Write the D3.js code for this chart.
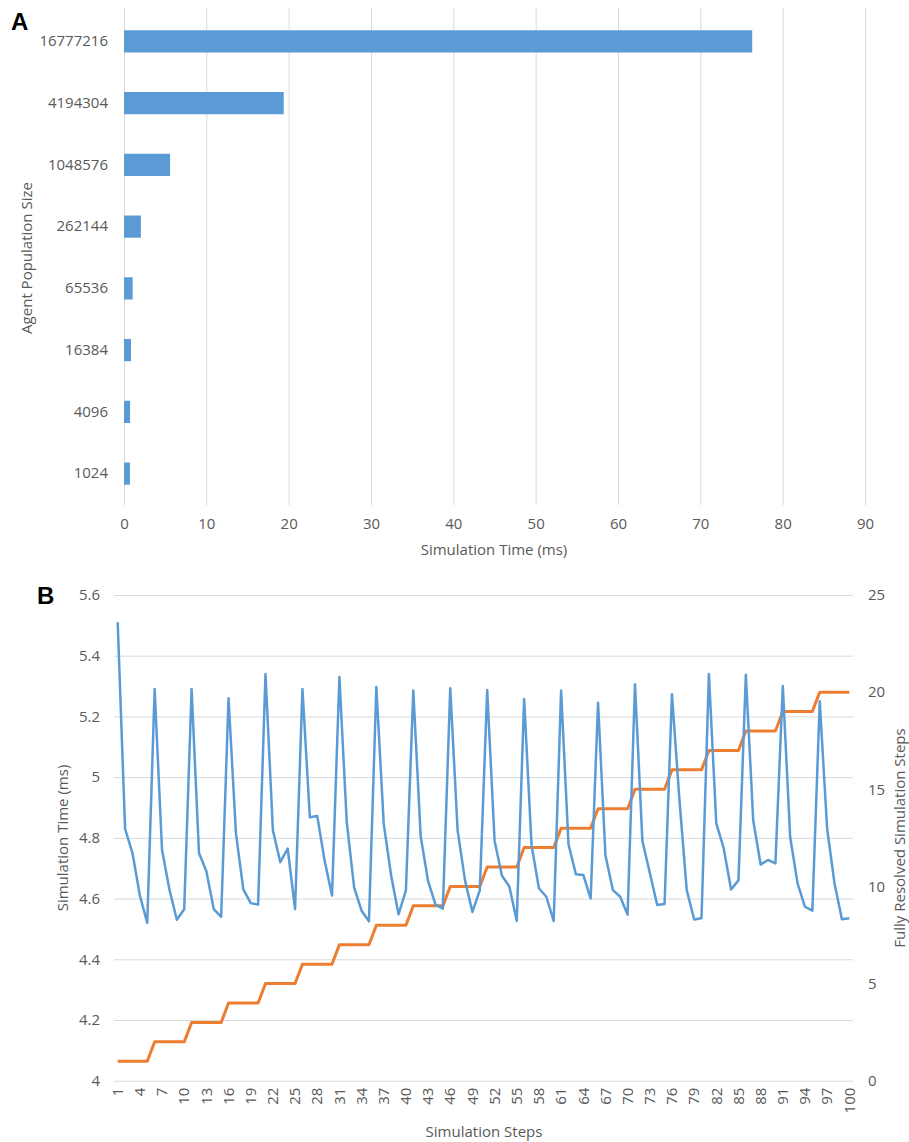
<!DOCTYPE html>
<html>
<head>
	<meta charset="UTF-8" />
	<title>simulation time charts</title>
	<script src="https://d3js.org/d3.v7.min.js"></script>
	<style>
		body { margin: 0; background: #fff; }
		text { font-family: "Open Sans", sans-serif; fill: #595959; }
	</style>
</head>
<body>
	<svg id="chart" width="909" height="1142"></svg>

	<script type="text/javascript">
	// colours
	const blue = "#5b9bd5"
	const orange = "#ed7d31"
	const gridGray = "#d9d9d9"

	// panel A : population size vs simulation time
	const popSizes = ["16777216", "4194304", "1048576", "262144", "65536", "16384", "4096", "1024"]
	const popTimes = [76.3, 19.4, 5.6, 2.05, 1.05, 0.85, 0.74, 0.72]
	const timeTicks = [0, 10, 20, 30, 40, 50, 60, 70, 80, 90]

	// panel B : per step time and resolved steps
	const steps = [1, 2, 3, 4, 5, 6, 7, 8, 9, 10, 11, 12, 13, 14, 15, 16, 17, 18, 19, 20,
		21, 22, 23, 24, 25, 26, 27, 28, 29, 30, 31, 32, 33, 34, 35, 36, 37, 38, 39, 40,
		41, 42, 43, 44, 45, 46, 47, 48, 49, 50, 51, 52, 53, 54, 55, 56, 57, 58, 59, 60,
		61, 62, 63, 64, 65, 66, 67, 68, 69, 70, 71, 72, 73, 74, 75, 76, 77, 78, 79, 80,
		81, 82, 83, 84, 85, 86, 87, 88, 89, 90, 91, 92, 93, 94, 95, 96, 97, 98, 99, 100]
	const stepTime = [5.51, 4.83, 4.75, 4.61, 4.52, 5.29, 4.76, 4.63, 4.53, 4.565,
		5.29, 4.75, 4.69, 4.565, 4.54, 5.26, 4.815, 4.63, 4.585, 4.58,
		5.34, 4.825, 4.72, 4.765, 4.565, 5.29, 4.868, 4.872, 4.725, 4.61,
		5.33, 4.85, 4.636, 4.56, 4.525, 5.297, 4.846, 4.676, 4.548, 4.627,
		5.285, 4.805, 4.658, 4.58, 4.567, 5.293, 4.824, 4.66, 4.556, 4.627,
		5.287, 4.79, 4.675, 4.64, 4.526, 5.257, 4.776, 4.634, 4.606, 4.526,
		5.285, 4.779, 4.68, 4.678, 4.6, 5.245, 4.743, 4.628, 4.606, 4.547,
		5.306, 4.79, 4.685, 4.579, 4.582, 5.273, 4.93, 4.628, 4.531, 4.535,
		5.34, 4.848, 4.766, 4.63, 4.66, 5.337, 4.857, 4.712, 4.727, 4.716,
		5.3, 4.802, 4.65, 4.573, 4.56, 5.25, 4.83, 4.65, 4.532, 4.535]
	const resolved = [1, 1, 1, 1, 1, 2, 2, 2, 2, 2, 3, 3, 3, 3, 3, 4, 4, 4, 4, 4,
		5, 5, 5, 5, 5, 6, 6, 6, 6, 6, 7, 7, 7, 7, 7, 8, 8, 8, 8, 8,
		9, 9, 9, 9, 9, 10, 10, 10, 10, 10, 11, 11, 11, 11, 11, 12, 12, 12, 12, 12,
		13, 13, 13, 13, 13, 14, 14, 14, 14, 14, 15, 15, 15, 15, 15, 16, 16, 16, 16, 16,
		17, 17, 17, 17, 17, 18, 18, 18, 18, 18, 19, 19, 19, 19, 19, 20, 20, 20, 20, 20]
	const leftTicks = [4, 4.2, 4.4, 4.6, 4.8, 5, 5.2, 5.4, 5.6]
	const rightTicks = [0, 5, 10, 15, 20, 25]
	const stepTicks = [1, 4, 7, 10, 13, 16, 19, 22, 25, 28, 31, 34, 37, 40, 43, 46, 49,
		52, 55, 58, 61, 64, 67, 70, 73, 76, 79, 82, 85, 88, 91, 94, 97, 100]

	const svg = d3.select("#chart")

	function styleAxis(g){
		g.select(".domain").remove()
		g.selectAll(".tick line").style("stroke", gridGray).style("stroke-width", "1px")
		g.selectAll(".tick text").style("font-size", "15px").style("fill", "#595959")
			.style("font-family", "'Open Sans', sans-serif")
	}

	// ---------- panel A ----------
	var xA = d3.scaleLinear().domain([0, 90]).range([124, 865])
	var yA = d3.scaleBand().domain(popSizes).range([10.5, 504.5]).paddingInner(0.64).paddingOuter(0.32)

	svg.append("g").attr("transform", "translate(0,505)")
		.call(d3.axisBottom(xA).tickValues(timeTicks).tickSize(-497).tickPadding(13))
		.call(styleAxis)

	svg.append("g").attr("transform", "translate(124,0)")
		.call(d3.axisLeft(yA).tickSize(0).tickPadding(16))
		.call(styleAxis)

	svg.append("g").selectAll("rect")
		.data(popSizes)
		.join("rect")
		.attr("x", xA(0))
		.attr("y", d => yA(d))
		.attr("width", (d, i) => xA(popTimes[i]) - xA(0))
		.attr("height", yA.bandwidth())
		.style("fill", blue)

	svg.append("text").attr("x", 494).attr("y", 555).attr("text-anchor", "middle")
		.style("font-size", "15px").text("Simulation Time (ms)")
	svg.append("text").attr("transform", "translate(32,258) rotate(-90)").attr("text-anchor", "middle")
		.style("font-size", "15px").text("Agent Population Size")
	svg.append("text").attr("x", 11).attr("y", 30)
		.style("font-family", "'Liberation Sans', Arial, sans-serif").style("font-weight", "bold")
		.style("font-size", "24px").style("fill", "#000").text("A")

	// ---------- panel B ----------
	var xB = d3.scaleBand().domain(steps).range([114, 853])
	var yL = d3.scaleLinear().domain([4, 5.6]).range([1080.7, 595])
	var yR = d3.scaleLinear().domain([0, 25]).range([1080.7, 595])
	var cx = d => xB(d) + xB.bandwidth() / 2

	svg.append("g").attr("transform", "translate(114,0)")
		.call(d3.axisLeft(yL).tickValues(leftTicks).tickSize(-739).tickPadding(14).tickFormat(d => String(+d.toFixed(1))))
		.call(styleAxis)

	svg.append("g").attr("transform", "translate(853,0)")
		.call(d3.axisRight(yR).tickValues(rightTicks).tickSize(0).tickPadding(15))
		.call(styleAxis)

	var xAxisB = svg.append("g").attr("transform", "translate(0,1080.7)")
		.call(d3.axisBottom(xB).tickValues(stepTicks).tickSize(0))
		.call(styleAxis)
	xAxisB.selectAll(".tick text")
		.attr("transform", "rotate(-90)")
		.attr("text-anchor", "end")
		.attr("x", -7).attr("y", 0).attr("dy", "0.35em")
		.style("font-size", "15px")

	var timeLine = d3.line().x(d => cx(d)).y((d, i) => yL(stepTime[i]))
	var resolvedLine = d3.line().x(d => cx(d)).y((d, i) => yR(resolved[i]))

	svg.append("path").attr("d", resolvedLine(steps))
		.style("fill", "none").style("stroke", orange).style("stroke-width", "3px")
		.style("stroke-linejoin", "round")
	svg.append("path").attr("d", timeLine(steps))
		.style("fill", "none").style("stroke", blue).style("stroke-width", "2.5px")
		.style("stroke-linejoin", "round")

	svg.append("text").attr("x", 484).attr("y", 1137).attr("text-anchor", "middle")
		.style("font-size", "15px").text("Simulation Steps")
	svg.append("text").attr("transform", "translate(68,838) rotate(-90)").attr("text-anchor", "middle")
		.style("font-size", "15px").text("Simulation Time (ms)")
	svg.append("text").attr("transform", "translate(905,838) rotate(-90)").attr("text-anchor", "middle")
		.style("font-size", "15px").text("Fully Resolved Simulation Steps")
	svg.append("text").attr("x", 37).attr("y", 604)
		.style("font-family", "'Liberation Sans', Arial, sans-serif").style("font-weight", "bold")
		.style("font-size", "24px").style("fill", "#000").text("B")
	</script>
</body>
</html>
